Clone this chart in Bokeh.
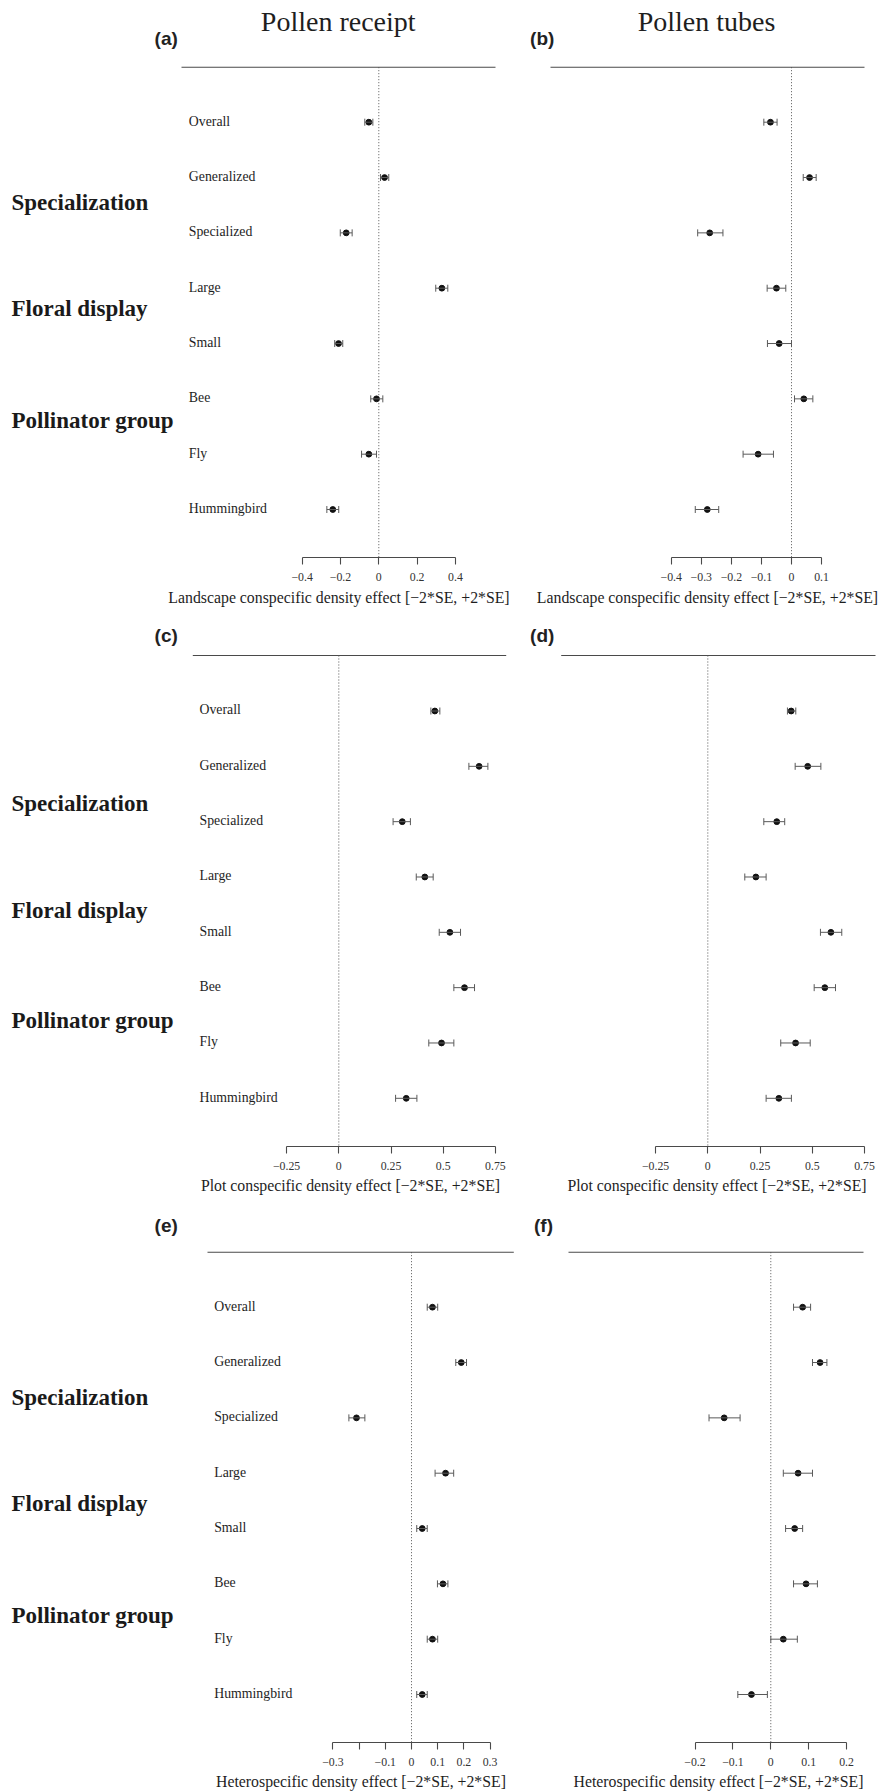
from bokeh.plotting import figure
from bokeh.models import Range1d, LinearAxis, FixedTicker, Whisker, TeeHead, ColumnDataSource
from bokeh.core.properties import value
from bokeh.embed import file_html
from bokeh.resources import INLINE

# ---------------- data ----------------
categories = ["Overall", "Generalized", "Specialized", "Large", "Small", "Bee", "Fly", "Hummingbird"]
groups = ["Specialization", "Floral display", "Pollinator group"]
column_titles = ["Pollen receipt", "Pollen tubes"]
panel_letters = ["(a)", "(b)", "(c)", "(d)", "(e)", "(f)"]

# (a) Pollen receipt, landscape conspecific density
a_est = [-0.052, 0.030, -0.170, 0.329, -0.210, -0.012, -0.052, -0.240]
a_lo = [-0.073, 0.009, -0.201, 0.297, -0.230, -0.042, -0.090, -0.271]
a_hi = [-0.031, 0.052, -0.139, 0.360, -0.188, 0.021, -0.012, -0.209]
# (b) Pollen tubes, landscape conspecific density
b_est = [-0.070, 0.060, -0.272, -0.050, -0.041, 0.041, -0.111, -0.280]
b_lo = [-0.092, 0.039, -0.312, -0.081, -0.080, 0.010, -0.161, -0.320]
b_hi = [-0.048, 0.082, -0.228, -0.019, 0.000, 0.071, -0.060, -0.242]
# (c) Pollen receipt, plot conspecific density
c_est = [0.460, 0.672, 0.304, 0.412, 0.532, 0.602, 0.492, 0.323]
c_lo = [0.441, 0.623, 0.260, 0.371, 0.481, 0.551, 0.431, 0.272]
c_hi = [0.484, 0.714, 0.343, 0.452, 0.583, 0.650, 0.551, 0.374]
# (d) Pollen tubes, plot conspecific density
d_est = [0.399, 0.478, 0.330, 0.230, 0.589, 0.560, 0.420, 0.340]
d_lo = [0.381, 0.418, 0.268, 0.177, 0.539, 0.509, 0.349, 0.279]
d_hi = [0.421, 0.541, 0.368, 0.279, 0.641, 0.611, 0.490, 0.400]
# (e) Pollen receipt, heterospecific density
e_est = [0.080, 0.190, -0.210, 0.130, 0.041, 0.120, 0.080, 0.041]
e_lo = [0.060, 0.169, -0.239, 0.090, 0.020, 0.099, 0.060, 0.020]
e_hi = [0.100, 0.210, -0.178, 0.161, 0.060, 0.139, 0.100, 0.060]
# (f) Pollen tubes, heterospecific density
f_est = [0.084, 0.130, -0.123, 0.072, 0.063, 0.093, 0.033, -0.051]
f_lo = [0.060, 0.110, -0.163, 0.033, 0.039, 0.060, 0.000, -0.087]
f_hi = [0.105, 0.148, -0.081, 0.110, 0.084, 0.123, 0.070, -0.009]

ticks_a = [-0.4, -0.2, 0, 0.2, 0.4]
tick_labels_a = ["\u22120.4", "\u22120.2", "0", "0.2", "0.4"]
ticks_b = [-0.4, -0.3, -0.2, -0.1, 0, 0.1]
tick_labels_b = ["\u22120.4", "\u22120.3", "\u22120.2", "\u22120.1", "0", "0.1"]
ticks_cd = [-0.25, 0, 0.25, 0.5, 0.75]
tick_labels_cd = ["\u22120.25", "0", "0.25", "0.5", "0.75"]
ticks_e = [-0.3, -0.2, -0.1, 0, 0.1, 0.2, 0.3]
tick_labels_e = ["\u22120.3", "", "\u22120.1", "0", "0.1", "0.2", "0.3"]
ticks_f = [-0.2, -0.1, 0, 0.1, 0.2]
tick_labels_f = ["\u22120.2", "\u22120.1", "0", "0.1", "0.2"]

axis_titles = [
    "Landscape conspecific density effect [\u22122*SE, +2*SE]",
    "Landscape conspecific density effect [\u22122*SE, +2*SE]",
    "Plot conspecific density effect [\u22122*SE, +2*SE]",
    "Plot conspecific density effect [\u22122*SE, +2*SE]",
    "Heterospecific density effect [\u22122*SE, +2*SE]",
    "Heterospecific density effect [\u22122*SE, +2*SE]",
]

# ---------------- layout (page pixels) ----------------
W, H = 882, 1792
X0, X1, Y0, Y1 = 0, W, 0, H
STEP = 55.33
rows_geo = {
    "r1": dict(top=66.7, first=121.7, axis=556.7, title=596.7, letter=37.7, groups=[201.7, 308.0, 420.0]),
    "r2": dict(top=655.0, first=710.5, axis=1145.7, title=1185.0, letter=635.0, groups=[802.7, 910.0, 1020.0]),
    "r3": dict(top=1251.7, first=1306.7, axis=1741.7, title=1781.0, letter=1225.0, groups=[1396.7, 1503.3, 1615.0]),
}
panels = [
    dict(name="a", row="r1", zero=378.3, scale=191.7, region=(181.0, 495.0), ticks=ticks_a, labels=tick_labels_a,
         est=a_est, lo=a_lo, hi=a_hi, lab_x=188.3, letter_x=165.7, title_x=338.5),
    dict(name="b", row="r1", zero=791.0, scale=300.7, region=(550.0, 864.0), ticks=ticks_b, labels=tick_labels_b,
         est=b_est, lo=b_lo, hi=b_hi, lab_x=None, letter_x=541.7, title_x=707.0),
    dict(name="c", row="r2", zero=338.3, scale=208.8, region=(192.3, 505.7), ticks=ticks_cd, labels=tick_labels_cd,
         est=c_est, lo=c_lo, hi=c_hi, lab_x=199.0, letter_x=165.7, title_x=350.0),
    dict(name="d", row="r2", zero=707.3, scale=209.0, region=(560.7, 875.0), ticks=ticks_cd, labels=tick_labels_cd,
         est=d_est, lo=d_lo, hi=d_hi, lab_x=None, letter_x=541.7, title_x=716.5),
    dict(name="e", row="r3", zero=411.0, scale=262.0, region=(207.0, 513.3), ticks=ticks_e, labels=tick_labels_e,
         est=e_est, lo=e_lo, hi=e_hi, lab_x=213.7, letter_x=165.7, title_x=360.5),
    dict(name="f", row="r3", zero=770.3, scale=379.0, region=(568.0, 863.0), ticks=ticks_f, labels=tick_labels_f,
         est=f_est, lo=f_lo, hi=f_hi, lab_x=None, letter_x=543.0, title_x=718.0),
]

SERIF = value("Liberation Serif")
SANS = value("Liberation Sans")
TXT = "#1e1e1e"
LINE = "#4a4a4a"
BAR = "#5a5a5a"

p = figure(width=W, height=H, x_range=Range1d(X0, X1), y_range=Range1d(Y1, Y0),
           min_border=0, toolbar_location=None, output_backend="svg",
           x_axis_location=None, y_axis_location=None, outline_line_color=None)
p.grid.visible = False
p.background_fill_color = "white"
p.border_fill_color = "white"

# row (category) ranges: one unit per category row, flipped so Overall is on top
for rname, g in rows_geo.items():
    p.extra_y_ranges[rname] = Range1d((Y1 - g["first"]) / STEP, (Y0 - g["first"]) / STEP)

rows_idx = list(range(len(categories)))

for i, pn in enumerate(panels):
    g = rows_geo[pn["row"]]
    xr = pn["name"]
    yr = pn["row"]
    s, z = pn["scale"], pn["zero"]
    p.extra_x_ranges[xr] = Range1d((X0 - z) / s, (X1 - z) / s)
    y_top = (g["top"] - g["first"]) / STEP
    y_axis = (g["axis"] - g["first"]) / STEP
    x_lo = (pn["region"][0] - z) / s
    x_hi = (pn["region"][1] - z) / s

    # top rule of plot region
    p.segment(x0=[x_lo], y0=[y_top], x1=[x_hi], y1=[y_top], line_color=LINE, line_width=1.1,
              x_range_name=xr, y_range_name=yr)
    # dotted zero reference line
    p.segment(x0=[0], y0=[y_top], x1=[0], y1=[y_axis], line_color="#555555", line_width=1,
              line_dash="1 2", x_range_name=xr, y_range_name=yr)

    src = ColumnDataSource(dict(y=rows_idx, est=pn["est"], lo=pn["lo"], hi=pn["hi"]))
    wh = Whisker(source=src, base="y", lower="lo", upper="hi", dimension="width",
                 line_color=BAR, line_width=1,
                 upper_head=TeeHead(size=7, line_color=BAR, line_width=1),
                 lower_head=TeeHead(size=7, line_color=BAR, line_width=1),
                 x_range_name=xr, y_range_name=yr, level="glyph")
    p.add_layout(wh)
    p.scatter(x="est", y="y", source=src, size=5.8, marker="circle", fill_color="#111111",
              line_color="#111111", x_range_name=xr, y_range_name=yr)

    ax = LinearAxis(x_range_name=xr, y_range_name=yr, fixed_location=y_axis,
                    ticker=FixedTicker(ticks=pn["ticks"], minor_ticks=[]),
                    bounds=(pn["ticks"][0], pn["ticks"][-1]))
    ax.major_label_overrides = {t: l for t, l in zip(pn["ticks"], pn["labels"])}
    ax.axis_line_color = LINE
    ax.axis_line_width = 1.1
    ax.major_tick_line_color = LINE
    ax.major_tick_line_width = 1.1
    ax.major_tick_in = 0
    ax.major_tick_out = 7
    ax.minor_tick_in = 0
    ax.minor_tick_out = 0
    ax.major_label_standoff = 9
    ax.major_label_text_font = "Liberation Serif"
    ax.major_label_text_font_size = "11.8px"
    ax.major_label_text_color = "#333333"
    p.add_layout(ax, "below")

    # category labels inside plot region, group labels at the left
    if pn["lab_x"] is not None:
        p.text(x=[pn["lab_x"]] * len(categories), y=[r - 0.02 for r in rows_idx], text=categories,
               y_range_name=yr, text_font=SERIF, text_font_size="13.8px", text_color=TXT,
               text_align="left", text_baseline="middle")
        p.text(x=[11] * len(groups), y=g["groups"], text=groups, text_font=SERIF,
               text_font_size="23px", text_font_style="bold", text_color="#1a1a1a",
               text_align="left", text_baseline="middle")

    # panel letter
    p.text(x=[pn["letter_x"]], y=[g["letter"]], text=[panel_letters[i]], text_font=SANS,
           text_font_size="19px", text_font_style="bold", text_color="#222222",
           text_align="center", text_baseline="middle")
    # axis title
    p.text(x=[pn["title_x"]], y=[g["title"]], text=[axis_titles[i]], text_font=SERIF,
           text_font_size="15.8px", text_color=TXT, text_align="center", text_baseline="middle")

# column titles
p.text(x=[337.7, 706.0], y=[20.7, 21.0], text=column_titles, text_font=SERIF,
       text_font_size="28px", text_color=TXT, text_align="center", text_baseline="middle")

open("out.html", "w").write(file_html(p, INLINE))
